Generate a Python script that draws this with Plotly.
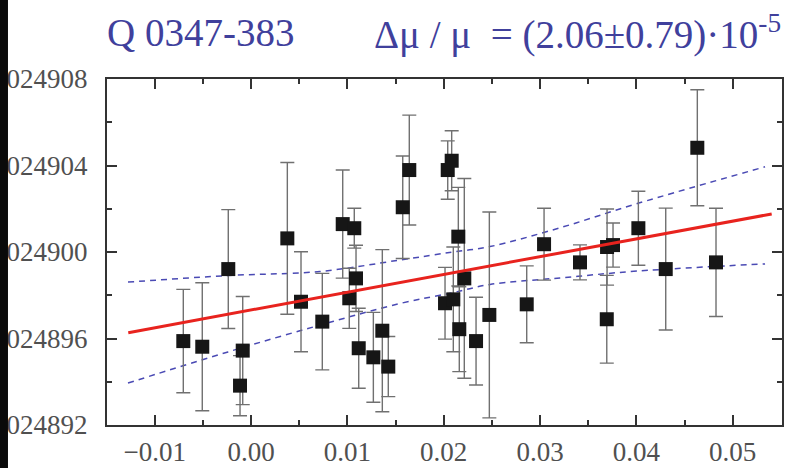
import plotly.graph_objects as go

# data points: K coefficient (x), absorption redshift z (y), 1-sigma error in z
x_vals = [-0.00703, -0.00506, -0.00086, -0.00114, -0.00236, 0.00377, 0.00519, 0.00740,
          0.00952, 0.01072, 0.01020, 0.01090, 0.01118, 0.01270, 0.01363, 0.01425,
          0.01643, 0.01575, 0.02083, 0.02042, 0.02152, 0.02214, 0.02014, 0.02100,
          0.02162, 0.02336, 0.02474, 0.02862, 0.03042, 0.03415, 0.03696, 0.03758,
          0.03693, 0.04021, 0.04305, 0.04633, 0.04827]
y_vals = [3.02489588, 3.02489562, 3.02489544, 3.02489382, 3.02489921, 3.02490063, 3.02489770, 3.02489678,
          3.02490129, 3.02490110, 3.02489786, 3.02489878, 3.02489555, 3.02489513, 3.02489636, 3.02489470,
          3.02490379, 3.02490207, 3.02490422, 3.02490379, 3.02490071, 3.02489878, 3.02489763, 3.02489781,
          3.02489643, 3.02489588, 3.02489709, 3.02489758, 3.02490036, 3.02489952, 3.02490023, 3.02490032,
          3.02489689, 3.02490110, 3.02489921, 3.02490482, 3.02489952]
y_errs = [2.39e-6, 2.96e-6, 2.50e-6, 1.39e-6, 2.75e-6, 3.51e-6, 2.31e-6, 2.23e-6,
          2.50e-6, 0.92e-6, 1.39e-6, 1.53e-6, 1.85e-6, 2.08e-6, 3.75e-6, 1.39e-6,
          2.54e-6, 2.37e-6, 1.39e-6, 1.35e-6, 2.28e-6, 4.62e-6, 1.66e-6, 2.42e-6,
          1.96e-6, 2.03e-6, 4.76e-6, 1.78e-6, 1.66e-6, 0.81e-6, 1.76e-6, 1.02e-6,
          2.03e-6, 1.71e-6, 2.82e-6, 2.68e-6, 2.50e-6]

# linear fit
fit_x = [-0.01274, 0.05405]
fit_y = [3.02489627, 3.02490176]

# confidence band (dashed)
band_x = [-0.01277, -0.00239, 0.00716, 0.01547, 0.02097, 0.02481, 0.03208, 0.04017, 0.05336]
band_upper = [3.02489861, 3.02489891, 3.02489910, 3.02489963, 3.02490000, 3.02490025, 3.02490112, 3.02490225, 3.02490394]
band_lower = [3.02489394, 3.02489538, 3.02489662, 3.02489762, 3.02489812, 3.02489850, 3.02489880, 3.02489912, 3.02489945]

x_ticks = [-0.01, 0.00, 0.01, 0.02, 0.03, 0.04, 0.05]
x_minor = [-0.005, 0.005, 0.015, 0.025, 0.035, 0.045]
y_ticks = [3.024892, 3.024896, 3.024900, 3.024904, 3.024908]
y_minor = [3.024894, 3.024898, 3.024902, 3.024906]

title_left = "Q 0347-383"
title_right = "Δμ / μ \u00a0= (2.06±0.79)·10<sup>-5</sup>"

SERIF = "Liberation Serif"

fig = go.Figure()
fig.add_trace(go.Scatter(x=band_x, y=band_upper, mode="lines", line_shape="spline",
                         line=dict(color="#4a4ab4", width=1.5, dash="6px,5px"), hoverinfo="skip"))
fig.add_trace(go.Scatter(x=band_x, y=band_lower, mode="lines", line_shape="spline",
                         line=dict(color="#4a4ab4", width=1.5, dash="6px,5px"), hoverinfo="skip"))
fig.add_trace(go.Scatter(x=x_vals, y=y_vals, mode="markers",
                         marker=dict(symbol="square", size=14, color="#161616"),
                         error_y=dict(type="data", array=y_errs, color="#707070", thickness=1.4, width=7)))
fig.add_trace(go.Scatter(x=fit_x, y=fit_y, mode="lines", line=dict(color="#e8231e", width=3)))

axis_font = dict(family=SERIF, size=27, color="#505050")
fig.update_xaxes(range=[-0.01495, 0.05512], tickmode="array", tickvals=x_ticks, tickformat=".2f",
                 ticks="inside", ticklen=10, tickwidth=2, tickcolor="#333",
                 minor=dict(tickmode="array", tickvals=x_minor, ticks="inside", ticklen=5, tickwidth=2, tickcolor="#333"),
                 showline=True, linewidth=2, linecolor="#333", mirror="allticks", automargin=False,
                 showgrid=False, zeroline=False, tickfont=axis_font, ticklabelstandoff=2)
fig.update_yaxes(range=[3.024892, 3.024908], tickmode="array", tickvals=y_ticks, tickformat=".6f",
                 ticks="inside", ticklen=10, tickwidth=2, tickcolor="#333",
                 minor=dict(tickmode="array", tickvals=y_minor, ticks="inside", ticklen=5, tickwidth=2, tickcolor="#333"),
                 showline=True, linewidth=2, linecolor="#333", mirror="allticks", automargin=False,
                 showgrid=False, zeroline=False, tickfont=axis_font, ticklabelstandoff=12)

fig.add_annotation(x=-0.003, y=1.133, xref="paper", yref="paper", xanchor="left", yanchor="middle",
                   text=title_left, showarrow=False,
                   font=dict(family=SERIF, size=39, color="#40409c"))
fig.add_annotation(x=0.393, y=1.133, xref="paper", yref="paper", xanchor="left", yanchor="middle",
                   text=title_right, showarrow=False,
                   font=dict(family=SERIF, size=39, color="#40409c"))

fig.add_shape(type="rect", xref="paper", yref="paper", x0=-0.17, x1=-0.1467, y0=-0.2, y1=1.3,
              fillcolor="#0a0a0a", line=dict(width=0), layer="above")

fig.update_layout(width=799, height=468, margin=dict(l=107, r=17, t=79, b=43, autoexpand=False),
                  plot_bgcolor="white", paper_bgcolor="white", showlegend=False)

fig.write_html("out.html")
